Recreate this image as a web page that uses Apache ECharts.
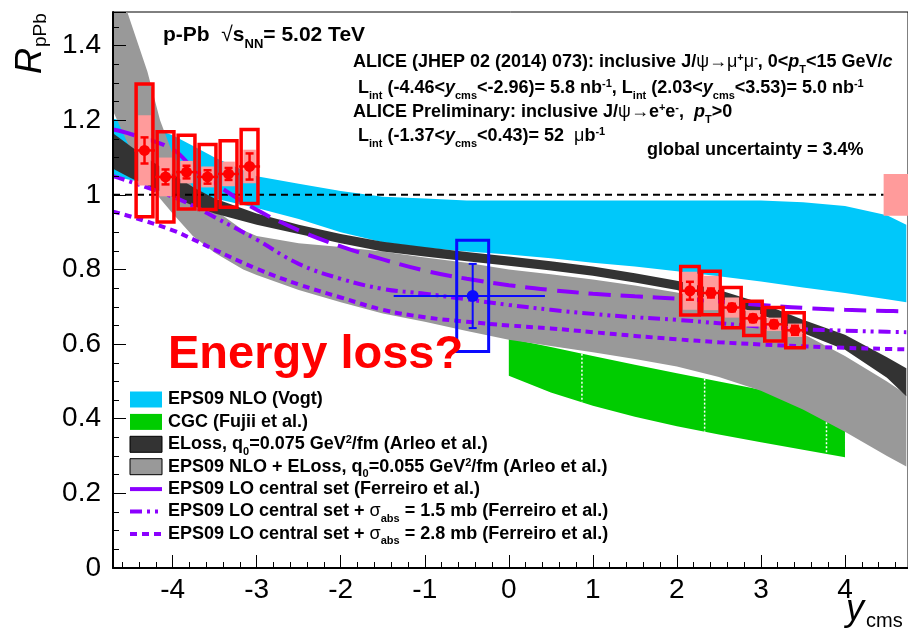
<!DOCTYPE html>
<html>
<head>
<meta charset="utf-8">
<script src="https://cdn.jsdelivr.net/npm/echarts@6/dist/echarts.min.js"></script>
<style>
  html, body { margin: 0; padding: 0; background: #fff; }
  #chart { width: 908px; height: 636px; }
</style>
</head>
<body>
<div id="chart"></div>
<script>
var FONT = "'Liberation Sans', Arial, Helvetica, sans-serif";

// axis ranges
var xRange = [-4.71, 4.75];
var yRange = [0, 1.49];

// EPS09 NLO (Vogt) band
var vogtX  = [-4.71, -4.5, -4.25, -4, -3.75, -3.5, -3, -2.5, -2, -1.5, -1, -0.5, 0, 0.5, 1, 1.5, 2, 2.5, 3, 3.5, 4, 4.5, 4.73];
var vogtHi = [1.204, 1.195, 1.18, 1.16, 1.13, 1.1, 1.05, 1.03, 1.01, 0.995, 0.99, 0.985, 0.985, 0.985, 0.985, 0.985, 0.985, 0.985, 0.985, 0.98, 0.97, 0.945, 0.92];
var vogtLo = [1.05, 1.04, 1.03, 1.015, 1.0, 0.99, 0.965, 0.935, 0.9, 0.873, 0.858, 0.848, 0.84, 0.83, 0.818, 0.808, 0.795, 0.782, 0.768, 0.752, 0.737, 0.72, 0.712];

// CGC (Fujii et al.) band
var cgcX  = [0, 0.5, 1, 1.5, 2, 2.5, 3, 3.5, 4];
var cgcHi = [0.615, 0.592, 0.568, 0.545, 0.522, 0.5, 0.478, 0.456, 0.435];
var cgcLo = [0.515, 0.47, 0.435, 0.405, 0.38, 0.358, 0.337, 0.317, 0.297];
var cgcMarks = [0.87, 2.33, 3.78];

// ELoss q0=0.075 (Arleo et al.) band
var elossX  = [-4.71, -4.5, -4.25, -4, -3.75, -3.5, -3, -2.5, -2, -1.5, -1, -0.5, 0, 0.5, 1, 1.5, 2, 2.5, 3, 3.5, 4, 4.5, 4.73];
var elossHi = [1.165, 1.13, 1.09, 1.055, 1.02, 0.99, 0.95, 0.92, 0.895, 0.874, 0.86, 0.847, 0.835, 0.822, 0.808, 0.79, 0.77, 0.745, 0.71, 0.665, 0.625, 0.565, 0.535];
var elossLo = [1.07, 1.045, 1.02, 0.995, 0.97, 0.95, 0.92, 0.895, 0.87, 0.848, 0.835, 0.822, 0.81, 0.797, 0.783, 0.765, 0.745, 0.715, 0.68, 0.63, 0.585, 0.51, 0.46];

// EPS09 NLO + ELoss q0=0.055 (Arleo et al.) band
var epsElX  = [-4.71, -4.54, -4.3, -4.15, -4.0, -3.76, -3.5, -3.16, -3, -2.5, -2, -1.5, -1, -0.5, 0, 0.5, 1, 1.5, 2, 2.5, 3, 3.5, 4, 4.5, 4.73];
var epsElHi = [1.62, 1.49, 1.33, 1.2, 1.11, 1.02, 0.96, 0.905, 0.89, 0.87, 0.86, 0.848, 0.832, 0.818, 0.8, 0.787, 0.773, 0.757, 0.738, 0.712, 0.676, 0.628, 0.568, 0.5, 0.465];
var epsElLo = [1.225, 1.14, 1.04, 0.99, 0.95, 0.89, 0.845, 0.8, 0.785, 0.745, 0.712, 0.682, 0.66, 0.635, 0.612, 0.595, 0.578, 0.56, 0.54, 0.512, 0.475, 0.425, 0.365, 0.3, 0.272];

// EPS09 LO (Ferreiro et al.) curves
var ferX      = [-4.71, -4.5, -4, -3.75, -3.5, -3, -2.5, -2, -1.5, -1, -0.5, 0, 0.5, 1, 1.5, 2, 2.5, 3, 3.5, 4, 4.5, 4.73];
var ferCentral = [1.175, 1.163, 1.122, 1.07, 1.03, 0.96, 0.905, 0.862, 0.827, 0.797, 0.775, 0.758, 0.745, 0.735, 0.728, 0.722, 0.714, 0.705, 0.697, 0.692, 0.689, 0.688];
var ferAbs15  = [1.05, 1.035, 0.995, 0.97, 0.94, 0.88, 0.815, 0.775, 0.748, 0.735, 0.72, 0.705, 0.692, 0.681, 0.672, 0.665, 0.656, 0.647, 0.64, 0.636, 0.633, 0.632];
var ferAbs28  = [0.955, 0.942, 0.905, 0.88, 0.853, 0.802, 0.76, 0.725, 0.692, 0.672, 0.66, 0.65, 0.642, 0.632, 0.622, 0.613, 0.605, 0.599, 0.594, 0.59, 0.587, 0.586];

// ALICE J/psi -> mu mu, backward
var bwdEdges  = [-4.46, -4.21, -3.96, -3.71, -3.46, -3.21, -2.96];
var bwdY      = [-4.335, -4.085, -3.835, -3.585, -3.335, -3.085];
var bwdR      = [1.119, 1.048, 1.061, 1.048, 1.056, 1.076];
var bwdStat   = [0.035, 0.02, 0.017, 0.018, 0.016, 0.035];
var bwdSysUnc = [0.178, 0.121, 0.099, 0.087, 0.089, 0.099];
var bwdSysCor = [0.094, 0.052, 0.03, 0.028, 0.033, 0.045];

// ALICE J/psi -> mu mu, forward
var fwdEdges  = [2.03, 2.28, 2.53, 2.78, 3.03, 3.28, 3.53];
var fwdY      = [2.155, 2.405, 2.655, 2.905, 3.155, 3.405];
var fwdR      = [0.743, 0.737, 0.698, 0.669, 0.653, 0.637];
var fwdStat   = [0.024, 0.012, 0.01, 0.01, 0.01, 0.012];
var fwdSysUnc = [0.065, 0.058, 0.054, 0.046, 0.045, 0.047];
var fwdSysCor = [0.051, 0.046, 0.027, 0.022, 0.018, 0.018];

// ALICE preliminary J/psi -> e e, mid rapidity
var midEdges  = [-1.37, 0.43];
var midY      = [-0.43];
var midR      = [0.729];
var midStat   = [0.086];
var midSysUnc = [0.149];

// reference line and global uncertainty
var refX = [-4.71, 4.46];
var refY = [1, 1];
var globX = [4.46, 4.8];
var globY = [0.944, 1.056];

var legendNames = [
  '{b|EPS09 NLO (Vogt)}',
  '{b|CGC (Fujii et al.)}',
  '{b|ELoss, q}{sub|0}{b|=0.075 GeV}{sup|2}{b|/fm (Arleo et al.)}',
  '{b|EPS09 NLO + ELoss, q}{sub|0}{b|=0.055 GeV}{sup|2}{b|/fm (Arleo et al.)}',
  '{b|EPS09 LO central set (Ferreiro et al.)}',
  '{b|EPS09 LO central set + }{g|σ}{sub|abs}{b| = 1.5 mb (Ferreiro et al.)}',
  '{b|EPS09 LO central set + }{g|σ}{sub|abs}{b| = 2.8 mb (Ferreiro et al.)}'
];

var CYAN = '#00c8fa', GREEN = '#00cc00', DARK = '#333333', GRAY = '#999999';
var PURPLE = '#8b00ff', RED = '#ff0000', PINK = '#ff9b9b', BLUE = '#0a0aff';

function rich(fs) {
  var base = { fontSize: fs, fontWeight: 'bold', fontFamily: FONT, fill: '#000', verticalAlign: 'middle' };
  var s = Math.round(fs * 0.62);
  return {
    b: base,
    bi: Object.assign({}, base, { fontStyle: 'italic' }),
    g: Object.assign({}, base, { fontWeight: 'normal' }),
    sub: Object.assign({}, base, { fontSize: s, padding: [Math.round(fs * 0.85), 0, 0, 0] }),
    sup: Object.assign({}, base, { fontSize: s, padding: [0, 0, Math.round(fs * 0.45), 0] })
  };
}

function label(x, y, text, fs) {
  return { type: 'text', x: x, y: y, z: 100,
    style: { text: text, rich: rich(fs), align: 'left', verticalAlign: 'middle' } };
}

function band(xs, lo, hi, color, z) {
  return {
    type: 'custom', z: z, clip: true, silent: true, data: [0],
    renderItem: function (params, api) {
      var pts = [];
      for (var i = 0; i < xs.length; i++) pts.push(api.coord([xs[i], hi[i]]));
      for (var j = xs.length - 1; j >= 0; j--) pts.push(api.coord([xs[j], lo[j]]));
      return { type: 'polygon', shape: { points: pts }, style: { fill: color } };
    }
  };
}

function curve(ys, dash) {
  return {
    type: 'line', z: 6, smooth: 0.4, showSymbol: false, silent: true,
    data: ferX.map(function (x, i) { return [x, ys[i]]; }),
    lineStyle: { color: PURPLE, width: 4, type: dash }
  };
}

function points(xs, ys, edges, stat, sysU, sysC, boxW, fillW, col, lw, rad) {
  return {
    type: 'custom', z: 10, silent: true,
    data: xs.map(function (x, i) { return [x, ys[i]]; }),
    renderItem: function (params, api) {
      var i = params.dataIndex, x = xs[i], y = ys[i], kids = [];
      if (sysC) {
        var a = api.coord([x - fillW, y + sysC[i]]), b = api.coord([x + fillW, y - sysC[i]]);
        kids.push({ type: 'rect', shape: { x: a[0], y: a[1], width: b[0] - a[0], height: b[1] - a[1] }, style: { fill: PINK } });
      }
      var c = api.coord([x - boxW, y + sysU[i]]), d = api.coord([x + boxW, y - sysU[i]]);
      kids.push({ type: 'rect', shape: { x: c[0], y: c[1], width: d[0] - c[0], height: d[1] - c[1] },
        style: { fill: 'none', stroke: col, lineWidth: lw + 1 } });
      var l = api.coord([edges[i], y]), r = api.coord([edges[i + 1], y]);
      kids.push({ type: 'line', shape: { x1: l[0], y1: l[1], x2: r[0], y2: r[1] }, style: { stroke: col, lineWidth: lw } });
      var t = api.coord([x, y + stat[i]]), bt = api.coord([x, y - stat[i]]);
      kids.push({ type: 'line', shape: { x1: t[0], y1: t[1], x2: bt[0], y2: bt[1] }, style: { stroke: col, lineWidth: lw } });
      kids.push({ type: 'line', shape: { x1: t[0] - 4, y1: t[1], x2: t[0] + 4, y2: t[1] }, style: { stroke: col, lineWidth: lw } });
      kids.push({ type: 'line', shape: { x1: bt[0] - 4, y1: bt[1], x2: bt[0] + 4, y2: bt[1] }, style: { stroke: col, lineWidth: lw } });
      var p = api.coord([x, y]);
      kids.push({ type: 'circle', shape: { cx: p[0], cy: p[1], r: rad }, style: { fill: col } });
      return { type: 'group', children: kids };
    }
  };
}

var chart = echarts.init(document.getElementById('chart'));

var graphics = [
  label(163, 35, '{b|p-Pb  }{g|√}{b|s}{sub|NN}{b|= 5.02 TeV}', 21),
  label(353, 62, '{b|ALICE (JHEP 02 (2014) 073): inclusive J/}{g|ψ→μ}{sup|+}{g|μ}{sup|-}{b|, 0<}{bi|p}{sub|T}{b|<15 GeV/}{bi|c}', 18),
  label(358, 88, '{b|L}{sub|int}{b| (-4.46<}{bi|y}{sub|cms}{b|<-2.96)= 5.8 nb}{sup|-1}{b|, L}{sub|int}{b| (2.03<}{bi|y}{sub|cms}{b|<3.53)= 5.0 nb}{sup|-1}', 18),
  label(353, 112, '{b|ALICE Preliminary: inclusive J/}{g|ψ→}{b|e}{sup|+}{b|e}{sup|-}{b|,  }{bi|p}{sub|T}{b|>0}', 18),
  label(358, 136, '{b|L}{sub|int}{b| (-1.37<}{bi|y}{sub|cms}{b|<0.43)= 52  }{g|μ}{b|b}{sup|-1}', 18),
  label(647, 150, '{b|global uncertainty = 3.4%}', 18),
  { type: 'text', x: 168, y: 355, z: 100,
    style: { text: 'Energy loss?', font: 'bold 47px ' + FONT, fill: RED, align: 'left', verticalAlign: 'middle' } },
  // axis titles
  { type: 'text', x: 846, y: 610, z: 100,
    style: { text: '{i|y}{s|cms}', align: 'left', verticalAlign: 'middle',
      rich: { i: { fontSize: 36, fontStyle: 'italic', fontFamily: FONT, fill: '#000', verticalAlign: 'middle' },
              s: { fontSize: 20, fontFamily: FONT, fill: '#000', verticalAlign: 'middle', padding: [22, 0, 0, 2] } } } },
  { type: 'text', x: 31, y: 74, rotation: Math.PI / 2, z: 100,
    style: { text: '{i|R}{s|pPb}', align: 'left', verticalAlign: 'middle',
      rich: { i: { fontSize: 36, fontStyle: 'italic', fontFamily: FONT, fill: '#000', verticalAlign: 'middle' },
              s: { fontSize: 19, fontFamily: FONT, fill: '#000', verticalAlign: 'middle', padding: [20, 0, 0, 1] } } } }
];

// legend
var legRow0 = 399.5, legStep = 22.4;
var legSym = [
  { kind: 'box', fill: CYAN },
  { kind: 'box', fill: GREEN },
  { kind: 'box', fill: DARK, stroke: '#000' },
  { kind: 'box', fill: GRAY, stroke: '#000' },
  { kind: 'line', dash: 'solid' },
  { kind: 'line', dash: [12, 5, 3, 5, 3, 5] },
  { kind: 'line', dash: [7, 5] }
];
legendNames.forEach(function (name, i) {
  var cy = legRow0 + i * legStep, s = legSym[i];
  if (s.kind === 'box') {
    graphics.push({ type: 'rect', z: 100, shape: { x: 130, y: cy - 8, width: 32, height: 16 },
      style: { fill: s.fill, stroke: s.stroke || null, lineWidth: 1 } });
  } else {
    graphics.push({ type: 'line', z: 100, shape: { x1: 130, y1: cy, x2: 162, y2: cy },
      style: { stroke: PURPLE, lineWidth: 4, lineDash: s.dash === 'solid' ? null : s.dash } });
  }
  graphics.push(label(168, cy, name, 18));
});

var option = {
  animation: false,
  backgroundColor: '#fff',
  grid: { left: 113, right: -2, top: 12, bottom: 68, show: true, borderColor: '#000', borderWidth: 1, backgroundColor: 'transparent' },
  xAxis: {
    type: 'value', min: xRange[0], max: xRange[1], splitNumber: 9, z: 20,
    axisLine: { onZero: false, lineStyle: { color: '#000', width: 2 } },
    axisTick: { inside: true, length: 13, lineStyle: { color: '#000', width: 1 } },
    minorTick: { show: true, splitNumber: 5, length: 6, lineStyle: { color: '#000', width: 1 } },
    splitLine: { show: false },
    axisLabel: { color: '#000', fontSize: 28, fontFamily: FONT, margin: 8, showMinLabel: false, showMaxLabel: false,
      formatter: function (v) { return Math.abs(v - Math.round(v)) < 1e-6 ? String(Math.round(v)) : ''; } }
  },
  yAxis: {
    type: 'value', min: yRange[0], max: yRange[1], interval: 0.2, z: 20,
    axisLine: { onZero: false, lineStyle: { color: '#000', width: 2 } },
    axisTick: { inside: true, length: 13, lineStyle: { color: '#000', width: 1 } },
    minorTick: { show: true, splitNumber: 4, length: 6, lineStyle: { color: '#000', width: 1 } },
    splitLine: { show: false },
    axisLabel: { color: '#000', fontSize: 28, fontFamily: FONT, margin: 12, showMaxLabel: false,
      formatter: function (v) { return v > 1.45 ? '' : String(Math.round(v * 10) / 10); } }
  },
  series: [
    band(vogtX, vogtLo, vogtHi, CYAN, 1),
    {
      type: 'custom', z: 2, clip: true, silent: true, data: [0],
      renderItem: function (params, api) {
        var pts = [], kids = [];
        for (var i = 0; i < cgcX.length; i++) pts.push(api.coord([cgcX[i], cgcHi[i]]));
        for (var j = cgcX.length - 1; j >= 0; j--) pts.push(api.coord([cgcX[j], cgcLo[j]]));
        kids.push({ type: 'polygon', shape: { points: pts }, style: { fill: GREEN } });
        cgcMarks.forEach(function (m) {
          var k = 0;
          while (k < cgcX.length - 2 && cgcX[k + 1] < m) k++;
          var f = (m - cgcX[k]) / (cgcX[k + 1] - cgcX[k]);
          var hi = cgcHi[k] + f * (cgcHi[k + 1] - cgcHi[k]);
          var lo = cgcLo[k] + f * (cgcLo[k + 1] - cgcLo[k]);
          var a = api.coord([m, hi]), b = api.coord([m, lo]);
          kids.push({ type: 'line', shape: { x1: a[0], y1: a[1], x2: b[0], y2: b[1] },
            style: { stroke: '#fff', lineWidth: 1.5, lineDash: [2, 2] } });
        });
        return { type: 'group', children: kids };
      }
    },
    band(epsElX, epsElLo, epsElHi, GRAY, 3),
    band(elossX, elossLo, elossHi, DARK, 4),
    {
      type: 'line', z: 5, showSymbol: false, silent: true,
      data: refX.map(function (x, i) { return [x, refY[i]]; }),
      lineStyle: { color: '#000', width: 2, type: [7, 5] }
    },
    curve(ferCentral, [22, 10]),
    curve(ferAbs15, [12, 5, 3, 5, 3, 5]),
    curve(ferAbs28, [7, 5]),
    {
      type: 'custom', z: 9, clip: true, silent: true, data: [0],
      renderItem: function (params, api) {
        var a = api.coord([globX[0], globY[1]]), b = api.coord([globX[1], globY[0]]);
        return { type: 'rect', shape: { x: a[0], y: a[1], width: b[0] - a[0], height: b[1] - a[1] }, style: { fill: PINK } };
      }
    },
    points(bwdY, bwdR, bwdEdges, bwdStat, bwdSysUnc, bwdSysCor, 0.1, 0.075, RED, 2.5, 5.5),
    points(fwdY, fwdR, fwdEdges, fwdStat, fwdSysUnc, fwdSysCor, 0.11, 0.085, RED, 2.5, 5.5),
    points(midY, midR, midEdges, midStat, midSysUnc, null, 0.19, 0, BLUE, 2, 6)
  ],
  graphic: graphics
};

chart.setOption(option);
window.addEventListener('resize', function () { chart.resize(); });
</script>
</body>
</html>
